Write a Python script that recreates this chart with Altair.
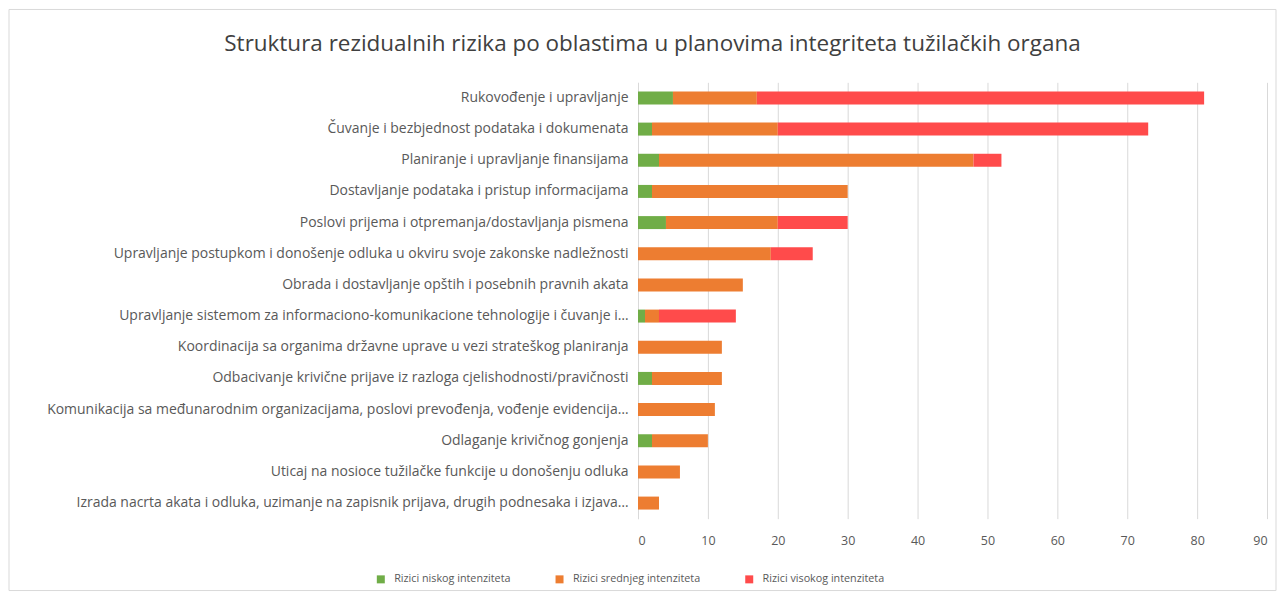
import altair as alt
import pandas as pd

categories = [
    "Rukovođenje i upravljanje",
    "Čuvanje i bezbjednost podataka i dokumenata",
    "Planiranje i upravljanje finansijama",
    "Dostavljanje podataka i pristup informacijama",
    "Poslovi prijema i otpremanja/dostavljanja pismena",
    "Upravljanje postupkom i donošenje odluka u okviru svoje zakonske nadležnosti",
    "Obrada i dostavljanje opštih i posebnih pravnih akata",
    "Upravljanje sistemom za informaciono-komunikacione tehnologije i čuvanje i…",
    "Koordinacija sa organima državne uprave u vezi strateškog planiranja",
    "Odbacivanje krivične prijave iz razloga cjelishodnosti/pravičnosti",
    "Komunikacija sa međunarodnim organizacijama, poslovi prevođenja, vođenje evidencija…",
    "Odlaganje krivičnog gonjenja",
    "Uticaj na nosioce tužilačke funkcije u donošenju odluka",
    "Izrada nacrta akata i odluka, uzimanje na zapisnik prijava, drugih podnesaka i izjava…",
]
low = [5, 2, 3, 2, 4, 0, 0, 1, 0, 2, 0, 2, 0, 0]
medium = [12, 18, 45, 28, 16, 19, 15, 2, 12, 10, 11, 8, 6, 3]
high = [64, 53, 4, 0, 10, 6, 0, 11, 0, 0, 0, 0, 0, 0]

series = ["Rizici niskog intenziteta", "Rizici srednjeg intenziteta", "Rizici visokog intenziteta"]
colors = ["#70AD47", "#ED7D31", "#FF4B4B"]

rows = []
for i, c in enumerate(categories):
    for k, (s, vals) in enumerate(zip(series, [low, medium, high])):
        rows.append({"Oblast": c, "Serija": s, "Vrijednost": vals[i], "red": k})
df = pd.DataFrame(rows)

FONT = "Open Sans"

bars = (
    alt.Chart(df)
    .mark_bar(size=13)
    .encode(
        y=alt.Y(
            "Oblast:N",
            sort=categories,
            title=None,
            axis=alt.Axis(
                ticks=False,
                labelPadding=10,
                labelLimit=700,
                labelFontSize=14,
                labelColor="#595959",
                labelFont=FONT,
                domainColor="#D9D9D9",
                minExtent=590,
                maxExtent=590,
                grid=False,
            ),
            scale=alt.Scale(paddingInner=0.58, paddingOuter=0.29),
        ),
        x=alt.X(
            "Vrijednost:Q",
            stack="zero",
            title=None,
            scale=alt.Scale(domain=[0, 90], nice=False),
            axis=alt.Axis(
                values=list(range(0, 91, 10)),
                domain=False,
                ticks=False,
                labelPadding=16,
                labelFontSize=12.5,
                labelColor="#595959",
                labelFont=FONT,
                gridColor="#D9D9D9",
                gridWidth=1,
            ),
        ),
        color=alt.Color(
            "Serija:N",
            scale=alt.Scale(domain=series, range=colors),
            legend=alt.Legend(
                title=None,
                orient="none",
                direction="horizontal",
                legendX=-263,
                legendY=492,
                symbolType="square",
                symbolSize=64,
                symbolStrokeWidth=0,
                labelFontSize=10.8,
                labelColor="#595959",
                labelFont=FONT,
                columnPadding=43,
                symbolOffset=0,
                labelOffset=8,
            ),
        ),
        order=alt.Order("red:Q", sort="ascending"),
    )
)

frame = (
    alt.Chart(pd.DataFrame({"f": [0]}))
    .mark_rect(fill=None, stroke="#D9D9D9", strokeWidth=1)
    .encode(
        x=alt.value(-630),
        x2=alt.value(639),
        y=alt.value(-73),
        y2=alt.value(509),
    )
)

chart = (
    alt.layer(bars, frame)
    .properties(
        width=630,
        height=437,
        padding={"left": 0, "top": 0, "right": 0, "bottom": 0},
        title=alt.TitleParams(
            "Struktura rezidualnih rizika po oblastima u planovima integriteta tužilačkih organa",
            font=FONT,
            fontSize=22.5,
            fontWeight="normal",
            color="#404040",
            offset=-47,
            anchor="middle",
            frame="bounds",
            dx=10,
        ),
    )
    .configure_view(stroke=None)
)

chart.save("out.html", embed_options={"renderer": "svg", "actions": False})
